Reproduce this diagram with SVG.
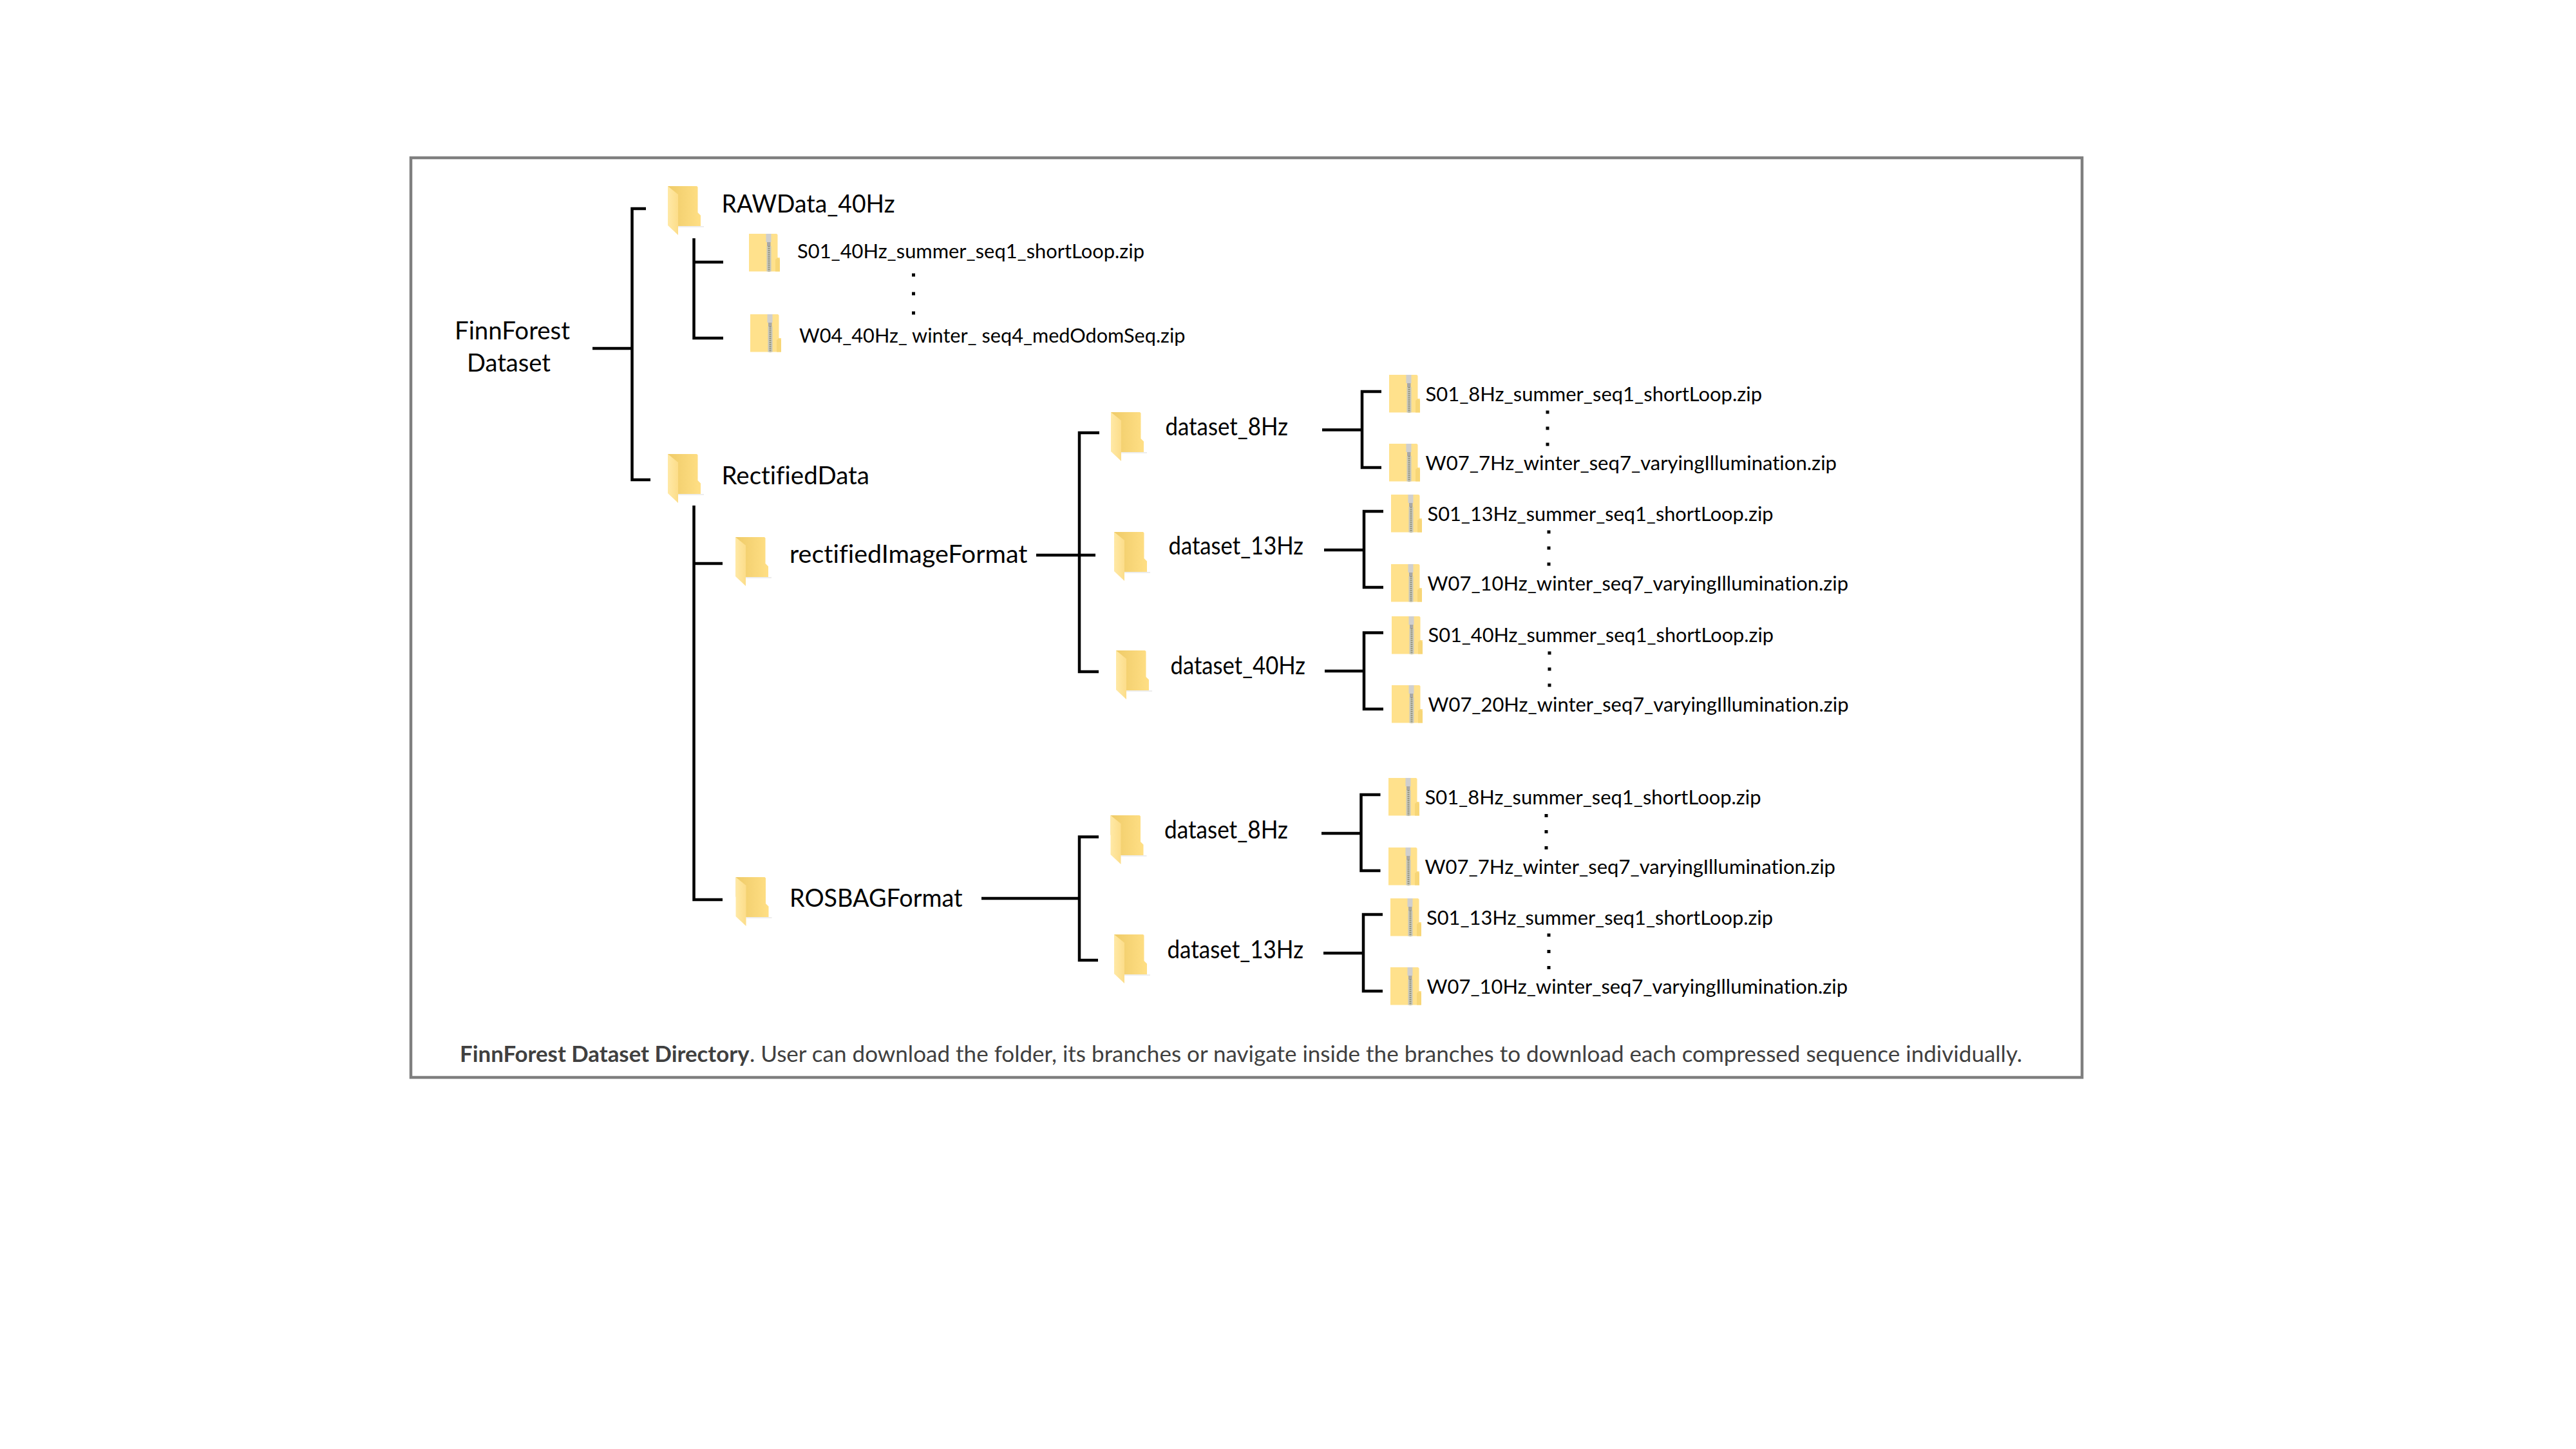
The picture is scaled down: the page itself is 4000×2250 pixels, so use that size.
<svg xmlns="http://www.w3.org/2000/svg" width="4000" height="2250" viewBox="0 0 4000 2250">
<style>
text{font-family:Lato,"Open Sans","Liberation Sans",sans-serif;fill:#000;font-variant-ligatures:none}
.l{font-size:38px}
.z{font-size:30px}
.c{font-size:35px;fill:#404040}
.b{font-weight:700}
.conn{fill:none;stroke:#000;stroke-width:4.500}
.dot{fill:#000}
</style>
<defs>
<linearGradient id="fb" x1="0" x2="1" y1="0" y2="0"><stop offset="0" stop-color="#EFCB68"/><stop offset="1" stop-color="#FFDF85"/></linearGradient>
<linearGradient id="ff" x1="0" x2="1" y1="0" y2="0"><stop offset="0" stop-color="#FFE9A6"/><stop offset="1" stop-color="#FCDD8A"/></linearGradient>
<symbol id="folder" width="56" height="80" viewBox="0 0 56 80" overflow="visible">
<path d="M16 62H56V64H16Z" fill="#EDEDED"/>
<path d="M0 0H45L46.500 1.500V41L51 45.500V62H15L0 30Z" fill="url(#fb)"/>
<path d="M0 0L16 13V76L0 61Z" fill="url(#ff)"/>
</symbol>
<symbol id="zip" width="48" height="60" viewBox="0 0 48 60" overflow="visible">
<path d="M0 0H43L44.500 1.500V37H48V58.500H0Z" fill="#FFE18C"/>
<path d="M41 58.500V40L44.500 37L48 40V58.500Z" fill="#F7D677"/>
<rect x="26.500" y="0" width="8" height="13" fill="#CFCFCF"/>
<rect x="28" y="13" width="5.500" height="6" fill="#A8A8A8"/>
<rect x="27.500" y="19" width="7" height="39.500" fill="#C8C8BE"/>
<path d="M31 19V58.500" stroke="#8A8A70" stroke-width="3" stroke-dasharray="1.500 1.500" fill="none"/>
</symbol>
</defs>
<rect id="frame" x="638" y="245" width="2595" height="1428" fill="#fff" stroke="#7F7F7F" stroke-width="4.500"/>
<g id="connectors" class="conn">
<path d="M920 541H981.500M1003 324H981.500V745H1010"/>
<path d="M1077.500 370V525H1123M1077.500 407H1123"/>
<path d="M1077.500 785V1397H1122M1077.500 875H1122"/>
<path d="M1609 862H1701M1707 672H1676V1043H1706"/>
<path d="M1524 1395H1676M1706 1299.500H1676V1491H1705"/>
<path d="M2053 667.500H2115M2145 608H2115V726H2145"/>
<path d="M2056 854H2118M2148 794H2118V912H2148"/>
<path d="M2057 1042H2118M2148 982.500H2118V1101H2148"/>
<path d="M2052 1294H2113.500M2143.500 1234H2113.500V1352H2143.500"/>
<path d="M2055 1480H2117M2147 1420H2117V1539H2147"/>
</g>
<g id="root"><text class="l" x="706" y="527" textLength="179" lengthAdjust="spacingAndGlyphs">FinnForest</text><text class="l" x="725" y="577" textLength="130" lengthAdjust="spacingAndGlyphs">Dataset</text></g>
<g id="rawdata"><use href="#folder" x="1037" y="289"/><text class="l" x="1120.500" y="330" textLength="269" lengthAdjust="spacingAndGlyphs">RAWData_40Hz</text></g>
<g id="raw-s01"><use href="#zip" x="1163" y="363"/><text class="z" x="1238" y="400.500" textLength="539" lengthAdjust="spacingAndGlyphs">S01_40Hz_summer_seq1_shortLoop.zip</text></g>
<g id="raw-dots" class="dot"><rect x="1416" y="424.500" width="5" height="5"/><rect x="1416" y="453.500" width="5" height="5"/><rect x="1416" y="483.500" width="5" height="5"/></g>
<g id="raw-w04"><use href="#zip" x="1165" y="488"/><text class="z" x="1241" y="531.500" textLength="599.500" lengthAdjust="spacingAndGlyphs">W04_40Hz_ winter_ seq4_medOdomSeq.zip</text></g>
<g id="rectified"><use href="#folder" x="1037" y="705"/><text class="l" x="1120.500" y="751.500" textLength="229.500" lengthAdjust="spacingAndGlyphs">RectifiedData</text></g>
<g id="rect-image"><use href="#folder" x="1142" y="834"/><text class="l" x="1226" y="874" textLength="369.500" lengthAdjust="spacingAndGlyphs">rectifiedImageFormat</text></g>
<g id="ros"><use href="#folder" x="1142.500" y="1362"/><text class="l" x="1226" y="1407.500" textLength="268.500" lengthAdjust="spacingAndGlyphs">ROSBAGFormat</text></g>
<g id="rect-8"><use href="#folder" x="1725" y="640"/><text class="l" x="1809.500" y="676" textLength="190.500" lengthAdjust="spacingAndGlyphs">dataset_8Hz</text></g>
<g id="rect-13"><use href="#folder" x="1730" y="826"/><text class="l" x="1814.500" y="861" textLength="209.500" lengthAdjust="spacingAndGlyphs">dataset_13Hz</text></g>
<g id="rect-40"><use href="#folder" x="1733" y="1010"/><text class="l" x="1817.500" y="1046.500" textLength="209.500" lengthAdjust="spacingAndGlyphs">dataset_40Hz</text></g>
<g id="ros-8"><use href="#folder" x="1724.500" y="1266"/><text class="l" x="1808" y="1302" textLength="192" lengthAdjust="spacingAndGlyphs">dataset_8Hz</text></g>
<g id="ros-13"><use href="#folder" x="1730" y="1451"/><text class="l" x="1812.500" y="1487.500" textLength="211.500" lengthAdjust="spacingAndGlyphs">dataset_13Hz</text></g>
<g id="r8-s"><use href="#zip" x="2157" y="582"/><text class="z" x="2213.500" y="622.500" textLength="522.500" lengthAdjust="spacingAndGlyphs">S01_8Hz_summer_seq1_shortLoop.zip</text></g>
<g id="r8-w"><use href="#zip" x="2157" y="689"/><text class="z" x="2213.500" y="730" textLength="638.500" lengthAdjust="spacingAndGlyphs">W07_7Hz_winter_seq7_varyingIllumination.zip</text></g>
<g id="r8-dots" class="dot"><rect x="2400.500" y="637.500" width="5" height="5"/><rect x="2400.500" y="662.500" width="5" height="5"/><rect x="2400.500" y="687.500" width="5" height="5"/></g>
<g id="r13-s"><use href="#zip" x="2160" y="768"/><text class="z" x="2216.500" y="808.500" textLength="537" lengthAdjust="spacingAndGlyphs">S01_13Hz_summer_seq1_shortLoop.zip</text></g>
<g id="r13-w"><use href="#zip" x="2160" y="876"/><text class="z" x="2216.500" y="916.500" textLength="653.500" lengthAdjust="spacingAndGlyphs">W07_10Hz_winter_seq7_varyingIllumination.zip</text></g>
<g id="r13-dots" class="dot"><rect x="2402.500" y="823.500" width="5" height="5"/><rect x="2402.500" y="848.500" width="5" height="5"/><rect x="2402.500" y="873.500" width="5" height="5"/></g>
<g id="r40-s"><use href="#zip" x="2161" y="957"/><text class="z" x="2217.500" y="996.500" textLength="536.500" lengthAdjust="spacingAndGlyphs">S01_40Hz_summer_seq1_shortLoop.zip</text></g>
<g id="r40-w"><use href="#zip" x="2161" y="1064"/><text class="z" x="2217.500" y="1104.500" textLength="653" lengthAdjust="spacingAndGlyphs">W07_20Hz_winter_seq7_varyingIllumination.zip</text></g>
<g id="r40-dots" class="dot"><rect x="2403.500" y="1011.500" width="5" height="5"/><rect x="2403.500" y="1036.500" width="5" height="5"/><rect x="2403.500" y="1061.500" width="5" height="5"/></g>
<g id="ros8-s"><use href="#zip" x="2156" y="1208"/><text class="z" x="2212.500" y="1248.500" textLength="522" lengthAdjust="spacingAndGlyphs">S01_8Hz_summer_seq1_shortLoop.zip</text></g>
<g id="ros8-w"><use href="#zip" x="2156" y="1316"/><text class="z" x="2212.500" y="1356.500" textLength="637.500" lengthAdjust="spacingAndGlyphs">W07_7Hz_winter_seq7_varyingIllumination.zip</text></g>
<g id="ros8-dots" class="dot"><rect x="2398.500" y="1264" width="5" height="5"/><rect x="2398.500" y="1289" width="5" height="5"/><rect x="2398.500" y="1314" width="5" height="5"/></g>
<g id="ros13-s"><use href="#zip" x="2159" y="1395"/><text class="z" x="2215" y="1435.500" textLength="538" lengthAdjust="spacingAndGlyphs">S01_13Hz_summer_seq1_shortLoop.zip</text></g>
<g id="ros13-w"><use href="#zip" x="2159" y="1502"/><text class="z" x="2215.500" y="1542.500" textLength="653.500" lengthAdjust="spacingAndGlyphs">W07_10Hz_winter_seq7_varyingIllumination.zip</text></g>
<g id="ros13-dots" class="dot"><rect x="2402.500" y="1449.500" width="5" height="5"/><rect x="2402.500" y="1475" width="5" height="5"/><rect x="2402.500" y="1500" width="5" height="5"/></g>
<g id="caption"><text class="c b" x="714" y="1649" textLength="449.500" lengthAdjust="spacingAndGlyphs">FinnForest Dataset Directory</text><text class="c" x="1164" y="1649" textLength="1976" lengthAdjust="spacingAndGlyphs">. User can download the folder, its branches or navigate inside the branches to download each compressed sequence individually.</text></g>
</svg>
